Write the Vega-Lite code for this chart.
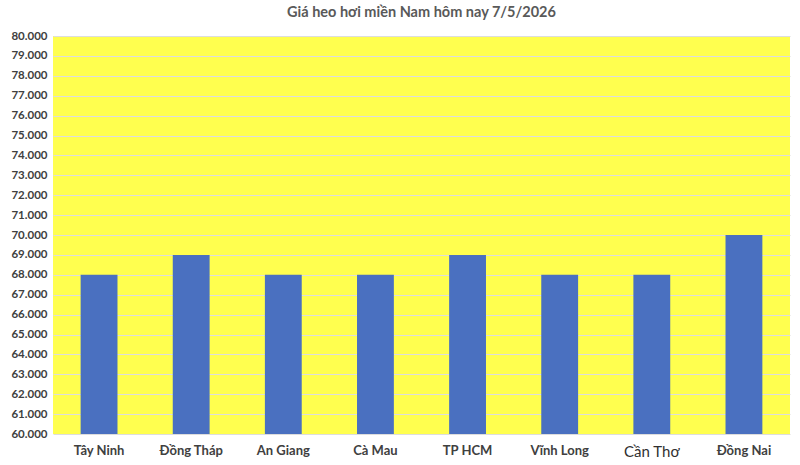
{
  "$schema": "https://vega.github.io/schema/vega-lite/v6.json",
  "title": {
    "text": "Giá heo hơi miền Nam hôm nay 7/5/2026",
    "anchor": "middle",
    "frame": "group",
    "font": "Lato",
    "fontSize": 14.5,
    "fontWeight": "bold",
    "color": "#595959",
    "offset": 10
  },
  "autosize": "none",
  "padding": {"left": 53, "top": 36, "right": 10, "bottom": 31},
  "width": 737,
  "height": 398,
  "background": "white",
  "data": {
    "values": [
      {"tinh": "Tây Ninh", "gia": 68000},
      {"tinh": "Đồng Tháp", "gia": 69000},
      {"tinh": "An Giang", "gia": 68000},
      {"tinh": "Cà Mau", "gia": 68000},
      {"tinh": "TP HCM", "gia": 69000},
      {"tinh": "Vĩnh Long", "gia": 68000},
      {"tinh": "Cần Thơ", "gia": 68000},
      {"tinh": "Đồng Nai", "gia": 70000}
    ]
  },
  "mark": {"type": "bar", "color": "#4A70C0"},
  "encoding": {
    "x": {
      "field": "tinh",
      "type": "nominal",
      "sort": null,
      "title": null,
      "scale": {"paddingInner": 0.6, "paddingOuter": 0.3},
      "axis": {
        "labelAngle": 0,
        "domain": false,
        "ticks": false,
        "labelPadding": 10,
        "labelFont": "Lato",
        "labelFontSize": {"condition": {"test": "datum.value == 'Cần Thơ'", "value": 15}, "value": 13},
        "labelFontWeight": {"condition": {"test": "datum.value == 'Cần Thơ'", "value": "normal"}, "value": "bold"},
        "labelColor": {"condition": {"test": "datum.value == 'Cần Thơ'", "value": "#303030"}, "value": "#404040"}
      }
    },
    "y": {
      "field": "gia",
      "type": "quantitative",
      "title": null,
      "scale": {"domain": [60000, 80000], "zero": false, "nice": false},
      "axis": {
        "values": [60000, 61000, 62000, 63000, 64000, 65000, 66000, 67000, 68000, 69000, 70000, 71000, 72000, 73000, 74000, 75000, 76000, 77000, 78000, 79000, 80000],
        "labelExpr": "replace(format(datum.value, ','), ',', '.')",
        "domain": false,
        "ticks": false,
        "labelPadding": 6,
        "labelFont": "Lato",
        "labelFontSize": 11.5,
        "labelFontWeight": "bold",
        "labelColor": "#404040",
        "gridColor": "#DDDDDD",
        "gridWidth": 1.2
      }
    },
    "y2": {"datum": 60000}
  },
  "config": {
    "view": {"fill": "#FFFF4F", "stroke": null}
  }
}
